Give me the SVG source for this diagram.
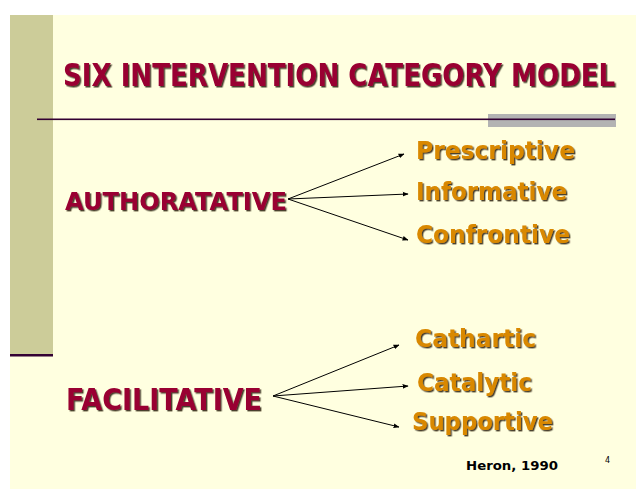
<svg xmlns="http://www.w3.org/2000/svg" width="636" height="489" viewBox="0 0 636 489">
  <defs>
    <filter id="shadow" filterUnits="userSpaceOnUse" x="-50" y="-150" width="736" height="689">
      <feDropShadow dx="1.4" dy="1.4" stdDeviation="0.3" flood-color="#2a1a10" flood-opacity="0.85"/>
    </filter>
    <marker id="arrow" viewBox="0 0 10 10" refX="9" refY="5" markerWidth="6" markerHeight="6" orient="auto" markerUnits="userSpaceOnUse">
      <path d="M0,1 L10,5 L0,9 z" fill="#000"/>
    </marker>
  </defs>
  <style>
    .head { font-family: "DejaVu Sans Condensed", "DejaVu Sans", "Liberation Sans", sans-serif; font-weight: bold; fill: #990033; filter: url(#shadow); }
    .cat { font-family: "DejaVu Sans", "Liberation Sans", sans-serif; font-weight: bold; fill: #990033; filter: url(#shadow); }
    .item { font-family: "DejaVu Sans", "Liberation Sans", sans-serif; font-weight: bold; fill: #D98800; filter: url(#shadow); }
    .note { font-family: "DejaVu Sans", "Liberation Sans", sans-serif; fill: #000; }
    .conn { stroke: #000; stroke-width: 1; fill: none; marker-end: url(#arrow); }
  </style>

  <!-- page and slide background -->
  <rect x="0" y="0" width="636" height="489" fill="#ffffff"/>
  <rect x="10" y="15" width="626" height="474" fill="#FFFFE0"/>

  <!-- left accent bar with dark underline -->
  <rect x="10" y="15" width="43" height="341" fill="#CCCC99"/>
  <rect x="10" y="354" width="43" height="2.5" fill="#330033"/>

  <!-- title rule with grey block -->
  <rect x="488" y="114" width="128" height="13" fill="#B3B3B3"/>
  <rect x="37" y="118.5" width="578" height="1.6" fill="#330033"/>

  <!-- title -->
  <g id="title" transform="translate(63,86) scale(1,1.08)">
    <text class="head" x="0" y="0" font-size="29">SIX INTERVENTION CATEGORY MODEL</text>
  </g>

  <!-- categories -->
  <g id="authoratative">
    <text class="cat" x="65" y="210" font-size="24" textLength="222" lengthAdjust="spacingAndGlyphs">AUTHORATATIVE</text>
  </g>
  <g id="facilitative">
    <text class="cat" x="66" y="410" font-size="30" textLength="196" lengthAdjust="spacingAndGlyphs">FACILITATIVE</text>
  </g>

  <!-- interventions -->
  <g id="prescriptive">
    <text class="item" x="416" y="159" font-size="25" textLength="159" lengthAdjust="spacingAndGlyphs">Prescriptive</text>
  </g>
  <g id="informative">
    <text class="item" x="416" y="200" font-size="25" textLength="151" lengthAdjust="spacingAndGlyphs">Informative</text>
  </g>
  <g id="confrontive">
    <text class="item" x="416" y="243" font-size="25" textLength="154" lengthAdjust="spacingAndGlyphs">Confrontive</text>
  </g>
  <g id="cathartic">
    <text class="item" x="415" y="347" font-size="25" textLength="121" lengthAdjust="spacingAndGlyphs">Cathartic</text>
  </g>
  <g id="catalytic">
    <text class="item" x="417" y="391" font-size="25" textLength="115" lengthAdjust="spacingAndGlyphs">Catalytic</text>
  </g>
  <g id="supportive">
    <text class="item" x="412" y="430" font-size="25" textLength="141" lengthAdjust="spacingAndGlyphs">Supportive</text>
  </g>

  <!-- connectors -->
  <g id="connectors">
    <line class="conn" x1="288" y1="199" x2="404" y2="154"/>
    <line class="conn" x1="288" y1="199" x2="408" y2="194"/>
    <line class="conn" x1="288" y1="199" x2="408" y2="240"/>
    <line class="conn" x1="273" y1="396" x2="399" y2="345"/>
    <line class="conn" x1="273" y1="396" x2="408" y2="386"/>
    <line class="conn" x1="273" y1="396" x2="399" y2="427"/>
  </g>

  <!-- citation and page number -->
  <g id="citation">
    <text class="note" x="466" y="470" font-size="13" font-weight="bold" textLength="92" lengthAdjust="spacingAndGlyphs">Heron, 1990</text>
  </g>
  <g id="page-number">
    <text class="note" x="605" y="463" font-size="8">4</text>
  </g>
</svg>
